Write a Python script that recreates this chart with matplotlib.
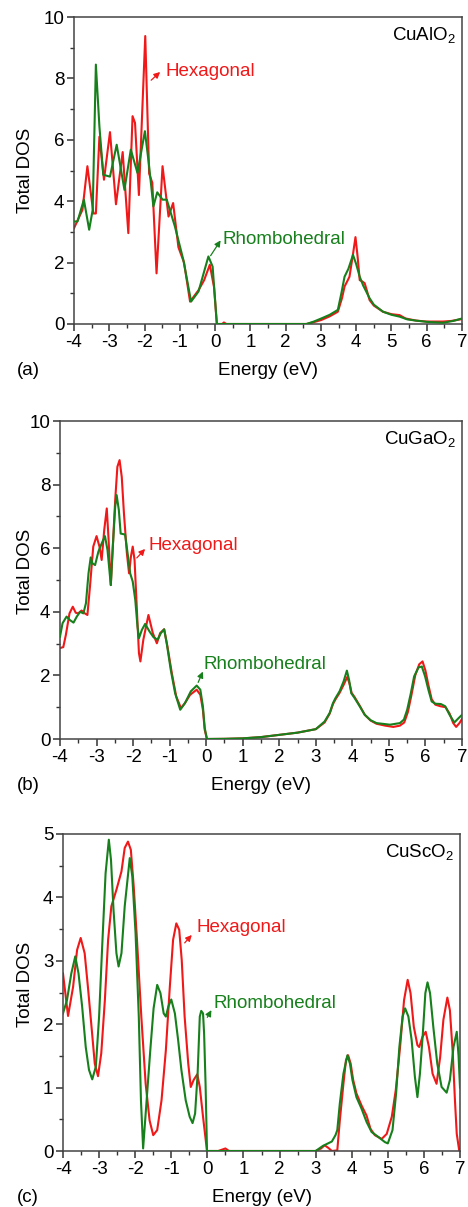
import numpy as np
import matplotlib.pyplot as plt
from matplotlib.ticker import MultipleLocator

# ---- data (energy in eV, total DOS) ----
# (a) CuAlO2
al_hex_e = [-4.0, -3.76, -3.62, -3.45, -3.38, -3.28, -3.15, -2.98, -2.81, -2.62, -2.46, -2.34,
            -2.27, -2.16, -1.98, -1.87, -1.78, -1.66, -1.49, -1.32, -1.19, -1.04, -0.88, -0.71,
            -0.47, -0.31, -0.15, -0.03, 0.05, 0.2, 0.25, 0.32, 1.0, 2.0, 2.59, 2.8, 3.01, 3.25,
            3.48, 3.6, 3.67, 3.75, 3.81, 3.9, 3.98, 4.04, 4.1, 4.18, 4.24, 4.3, 4.38, 4.5,
            4.76, 5.0, 5.23, 5.4, 5.7, 6.0, 6.46, 6.7, 7.0]
al_hex_dos = [3.12, 3.72, 5.14, 3.6, 3.6, 6.1, 4.7, 6.25, 3.9, 5.6, 2.96, 6.77,
              6.55, 4.2, 9.38, 4.9, 4.6, 1.65, 5.14, 3.5, 3.94, 2.5, 2.0, 0.73,
              1.1, 1.43, 1.93, 1.2, 0.0, 0.0, 0.05, 0.0, 0.0, 0.0, 0.0, 0.06, 0.13, 0.25,
              0.4, 0.85, 1.22, 1.4, 1.54, 2.2, 2.83, 2.2, 1.43, 1.38, 1.33, 1.1, 0.78, 0.6,
              0.4, 0.32, 0.29, 0.18, 0.11, 0.08, 0.08, 0.1, 0.16]
al_rho_e = [-4.0, -3.9, -3.72, -3.57, -3.47, -3.38, -3.28, -3.17, -2.98, -2.79, -2.57, -2.39,
            -2.2, -1.99, -1.87, -1.75, -1.64, -1.49, -1.37, -1.14, -0.9, -0.68, -0.47, -0.19,
            -0.07, 0.05, 1.0, 2.0, 2.59, 2.8, 3.01, 3.25, 3.48, 3.58, 3.67, 3.78, 3.91, 4.0,
            4.1, 4.2, 4.38, 4.5, 4.76, 5.0, 5.23, 5.45, 5.7, 6.0, 6.46, 6.75, 7.0]
al_rho_dos = [3.34, 3.34, 4.05, 3.07, 3.72, 8.45, 6.44, 4.86, 4.8, 5.84, 4.37, 5.68,
              4.92, 6.28, 5.14, 3.83, 4.29, 4.05, 4.05, 3.18, 2.09, 0.73, 1.06, 2.2,
              1.87, 0.0, 0.0, 0.0, 0.0, 0.08, 0.18, 0.3, 0.46, 1.0, 1.54, 1.8, 2.25, 1.95,
              1.54, 1.25, 0.84, 0.63, 0.4, 0.3, 0.24, 0.15, 0.11, 0.07, 0.04, 0.1, 0.18]

# (b) CuGaO2
ga_hex_e = [-4.0, -3.91, -3.84, -3.74, -3.65, -3.57, -3.5, -3.41, -3.32, -3.25, -3.18, -3.09,
            -3.0, -2.92, -2.86, -2.79, -2.72, -2.67, -2.61, -2.56, -2.49, -2.43, -2.37, -2.31,
            -2.25, -2.17, -2.11, -2.06, -2.01, -1.96, -1.9, -1.84, -1.8, -1.72, -1.58, -1.46,
            -1.35, -1.26, -1.15, -1.06, -0.94, -0.82, -0.69, -0.58, -0.44, -0.26, -0.16, -0.09,
            -0.04, 0.02, 0.5, 1.0, 1.5, 2.0, 2.5, 3.0, 3.24, 3.38, 3.47, 3.54, 3.65, 3.76,
            3.86, 3.92, 3.98, 4.06, 4.2, 4.34, 4.5, 4.66, 4.9, 5.12, 5.3, 5.42, 5.52, 5.62,
            5.72, 5.83, 5.92, 6.0, 6.08, 6.17, 6.27, 6.41, 6.55, 6.66, 6.76, 6.84, 6.93, 7.0]
ga_hex_dos = [2.86, 2.89, 3.27, 3.95, 4.16, 3.97, 3.95, 4.04, 3.95, 3.9, 4.79, 6.05,
              6.38, 6.05, 5.63, 6.57, 7.25, 6.26, 4.84, 5.94, 7.51, 8.56, 8.77, 8.24,
              7.09, 5.84, 5.21, 5.73, 6.05, 5.63, 4.16, 2.7, 2.44, 3.12, 3.9, 3.33,
              3.01, 3.33, 3.45, 2.91, 2.07, 1.34, 0.97, 1.13, 1.39, 1.55, 1.39, 0.92,
              0.29, 0.0, 0.005, 0.02, 0.06, 0.13, 0.2, 0.31, 0.52, 0.8, 1.1, 1.25, 1.45, 1.7,
              1.95, 1.75, 1.45, 1.32, 1.05, 0.76, 0.58, 0.48, 0.42, 0.38, 0.42, 0.52, 0.85, 1.4,
              2.0, 2.35, 2.44, 2.15, 1.7, 1.25, 1.08, 1.03, 1.0, 0.8, 0.5, 0.38, 0.5, 0.63]
ga_rho_e = [-4.0, -3.93, -3.82, -3.73, -3.63, -3.54, -3.45, -3.36, -3.29, -3.22, -3.16, -3.11,
            -3.04, -2.95, -2.86, -2.77, -2.7, -2.61, -2.56, -2.49, -2.45, -2.39, -2.34, -2.22,
            -2.15, -2.08, -2.01, -1.94, -1.88, -1.84, -1.76, -1.67, -1.55, -1.44, -1.33, -1.24,
            -1.15, -1.08, -0.97, -0.85, -0.71, -0.58, -0.42, -0.26, -0.16, -0.09, -0.04, 0.02,
            0.5, 1.0, 1.5, 2.0, 2.5, 3.0, 3.24, 3.38, 3.47, 3.54, 3.65, 3.76, 3.85, 3.91,
            3.97, 4.06, 4.2, 4.34, 4.5, 4.66, 5.03, 5.3, 5.41, 5.5, 5.6, 5.69, 5.81, 5.9,
            5.99, 6.08, 6.17, 6.27, 6.42, 6.54, 6.66, 6.79, 6.91, 7.0]
ga_rho_dos = [3.22, 3.64, 3.85, 3.74, 3.66, 3.85, 4.0, 3.95, 4.27, 5.21, 5.71, 5.52,
              5.47, 5.89, 6.15, 6.38, 5.94, 4.84, 5.94, 7.3, 7.67, 7.2, 6.46, 6.43,
              5.84, 5.21, 4.95, 4.37, 3.54, 3.17, 3.43, 3.62, 3.38, 3.2, 3.12, 3.33,
              3.45, 3.01, 2.18, 1.44, 0.92, 1.13, 1.5, 1.68, 1.55, 1.03, 0.35, 0.0,
              0.005, 0.02, 0.06, 0.13, 0.2, 0.31, 0.55, 0.82, 1.13, 1.29, 1.5, 1.81, 2.15, 1.86,
              1.44, 1.29, 1.03, 0.76, 0.59, 0.5, 0.45, 0.5, 0.61, 0.92, 1.44, 1.97, 2.25, 2.28,
              1.97, 1.55, 1.18, 1.11, 1.1, 1.03, 0.76, 0.52, 0.66, 0.76]

# (c) CuScO2
sc_hex_e = [-4.0, -3.86, -3.72, -3.61, -3.51, -3.4, -3.31, -3.21, -3.12, -3.03, -2.94, -2.84,
            -2.75, -2.66, -2.52, -2.38, -2.29, -2.2, -2.12, -2.04, -1.95, -1.83, -1.71, -1.6,
            -1.5, -1.39, -1.27, -1.15, -1.04, -0.95, -0.86, -0.78, -0.71, -0.63, -0.53, -0.46,
            -0.38, -0.28, -0.21, -0.12, -0.01, 0.3, 0.5, 0.6, 1.0, 2.0, 3.0, 3.15, 3.25, 3.35,
            3.45, 3.6, 3.67, 3.77, 3.84, 3.9, 3.97, 4.04, 4.13, 4.27, 4.41, 4.52, 4.64, 4.83,
            4.97, 5.11, 5.22, 5.34, 5.45, 5.55, 5.63, 5.72, 5.82, 5.87, 5.96, 6.05, 6.14, 6.24,
            6.35, 6.45, 6.54, 6.65, 6.72, 6.8, 6.86, 6.91, 6.98]
sc_hex_dos = [2.8, 2.13, 2.59, 3.17, 3.36, 3.12, 2.59, 1.96, 1.38, 1.18, 1.54, 2.38,
              3.33, 3.86, 4.12, 4.41, 4.78, 4.88, 4.75, 4.17, 3.33, 2.12, 1.06, 0.48,
              0.25, 0.33, 0.8, 1.59, 2.59, 3.33, 3.59, 3.49, 3.01, 2.12, 1.38, 1.01,
              1.12, 1.21, 1.01, 0.54, 0.0, 0.0, 0.04, 0.0, 0.0, 0.0, 0.0, 0.04, 0.09, 0.05,
              0.0, 0.01, 0.48, 1.06, 1.43, 1.51, 1.38, 1.12, 0.91, 0.72, 0.56, 0.35, 0.25, 0.19,
              0.27, 0.54, 0.96, 1.64, 2.38, 2.7, 2.49, 1.96, 1.67, 1.64, 1.8, 1.88, 1.64, 1.22,
              1.06, 1.48, 2.07, 2.42, 2.22, 1.54, 0.8, 0.27, 0.0]
sc_rho_e = [-4.0, -3.89, -3.77, -3.66, -3.57, -3.47, -3.37, -3.28, -3.19, -3.09, -3.0, -2.91,
            -2.82, -2.73, -2.67, -2.6, -2.52, -2.46, -2.38, -2.29, -2.15, -2.08, -1.99, -1.9,
            -1.84, -1.78, -1.67, -1.58, -1.49, -1.39, -1.3, -1.21, -1.15, -1.08, -1.0, -0.9,
            -0.81, -0.72, -0.6, -0.49, -0.41, -0.34, -0.27, -0.21, -0.17, -0.12, -0.09, -0.05,
            -0.01, 1.0, 2.0, 3.0, 3.2, 3.45, 3.55, 3.6, 3.67, 3.77, 3.88, 3.95, 4.02, 4.13,
            4.27, 4.41, 4.55, 4.74, 4.92, 5.0, 5.13, 5.23, 5.32, 5.41, 5.48, 5.57, 5.66, 5.75,
            5.82, 5.89, 5.97, 6.04, 6.1, 6.17, 6.26, 6.37, 6.49, 6.63, 6.72, 6.82, 6.91, 6.96,
            7.0]
sc_rho_dos = [2.17, 2.38, 2.8, 3.07, 2.8, 2.28, 1.64, 1.28, 1.13, 1.33, 2.12, 3.28,
              4.38, 4.91, 4.59, 3.8, 3.12, 2.91, 3.12, 3.86, 4.62, 4.33, 3.44, 2.12,
              0.8, 0.04, 0.9, 1.6, 2.25, 2.62, 2.49, 2.17, 2.12, 2.28, 2.39, 2.17,
              1.75, 1.28, 0.8, 0.54, 0.44, 0.59, 1.22, 2.12, 2.21, 2.17, 1.85, 1.06,
              0.0, 0.0, 0.0, 0.0, 0.08, 0.15, 0.25, 0.33, 0.75, 1.22, 1.51, 1.38, 1.12, 0.85,
              0.67, 0.46, 0.3, 0.22, 0.14, 0.12, 0.33, 0.91, 1.64, 2.12, 2.25, 2.12, 1.75, 1.17,
              0.85, 1.22, 1.85, 2.49, 2.66, 2.49, 1.96, 1.38, 1.01, 0.92, 1.12, 1.64, 1.88, 1.5,
              1.0]

panels = [
    dict(name='CuAlO$_2$', hex=(al_hex_e, al_hex_dos), rho=(al_rho_e, al_rho_dos),
         ymax=10, ymaj=2, tag='(a)', box=(74, 17, 462, 324), ylab_y=170,
         hex_txt=(-1.42, 8.24), hex_arr=((-1.87, 7.88), (-1.5, 8.27)),
         rho_txt=(0.2, 2.74), rho_arr=((-0.17, 2.15), (0.2, 2.8))),
    dict(name='CuGaO$_2$', hex=(ga_hex_e, ga_hex_dos), rho=(ga_rho_e, ga_rho_dos),
         ymax=10, ymaj=2, tag='(b)', box=(60, 421, 462, 739), ylab_y=571,
         hex_txt=(-1.59, 6.1), hex_arr=((-1.95, 5.63), (-1.62, 6.04)),
         rho_txt=(-0.06, 2.33), rho_arr=((-0.25, 1.7), (-0.06, 2.2))),
    dict(name='CuScO$_2$', hex=(sc_hex_e, sc_hex_dos), rho=(sc_rho_e, sc_rho_dos),
         ymax=5, ymaj=1, tag='(c)', box=(63, 834, 460, 1151), ylab_y=984,
         hex_txt=(-0.29, 3.52), hex_arr=((-0.68, 3.25), (-0.38, 3.44)),
         rho_txt=(0.18, 2.33), rho_arr=((-0.04, 2.07), (0.15, 2.26))),
]

W, H = 468, 1207
RED = '#f01818'
GREEN = '#17801c'
FS = 13.5

plt.rcParams['font.family'] = ['Liberation Sans', 'DejaVu Sans']
plt.rcParams['axes.unicode_minus'] = False
# subscripts in the same face as the rest of the text
plt.rcParams['mathtext.fontset'] = 'custom'
plt.rcParams['mathtext.rm'] = 'Liberation Sans'
plt.rcParams['mathtext.it'] = 'Liberation Sans'
plt.rcParams['mathtext.default'] = 'regular'
fig = plt.figure(figsize=(W / 100, H / 100), dpi=100)

for p in panels:
    l, t, r, b = p['box']
    ax = fig.add_axes([l / W, 1 - b / H, (r - l) / W, (b - t) / H])
    ax.plot(*p['hex'], color=RED, lw=1.5, zorder=2)
    ax.plot(*p['rho'], color=GREEN, lw=1.5, zorder=3)
    ax.set_xlim(-4, 7)
    ax.set_ylim(0, p['ymax'])
    ax.xaxis.set_major_locator(MultipleLocator(1))
    ax.xaxis.set_minor_locator(MultipleLocator(0.5))
    ax.yaxis.set_major_locator(MultipleLocator(p['ymaj']))
    ax.yaxis.set_minor_locator(MultipleLocator(p['ymaj'] / 2))
    ax.tick_params(which='major', direction='out', length=5, width=1.1, labelsize=FS,
                   color='#333333', pad=2)
    ax.tick_params(which='minor', direction='out', length=3, width=1.0, color='#333333')
    for s in ax.spines.values():
        s.set_linewidth(1.1)
        s.set_color('#444444')

    ax.text(0.985, 0.975, p['name'], transform=ax.transAxes, ha='right', va='top', fontsize=FS)
    ax.text(*p['hex_txt'], 'Hexagonal', color=RED, fontsize=FS, va='center', ha='left')
    ax.text(*p['rho_txt'], 'Rhombohedral', color=GREEN, fontsize=FS, va='center', ha='left')
    for (tail, head), c in [(p['hex_arr'], RED), (p['rho_arr'], GREEN)]:
        ax.annotate('', xy=head, xytext=tail,
                    arrowprops=dict(arrowstyle='-|>', color=c, lw=0.9, mutation_scale=9))

    xc = (l + r) / 2
    fig.text(xc / W, 1 - (b + 46) / H, 'Energy (eV)', ha='center', va='center', fontsize=FS)
    fig.text(17 / W, 1 - (b + 46) / H, p['tag'], ha='left', va='center', fontsize=FS)
    fig.text(26 / W, 1 - p['ylab_y'] / H, 'Total DOS', rotation=90, ha='center', va='center',
             fontsize=FS)

fig.savefig('out.png', dpi=100)
